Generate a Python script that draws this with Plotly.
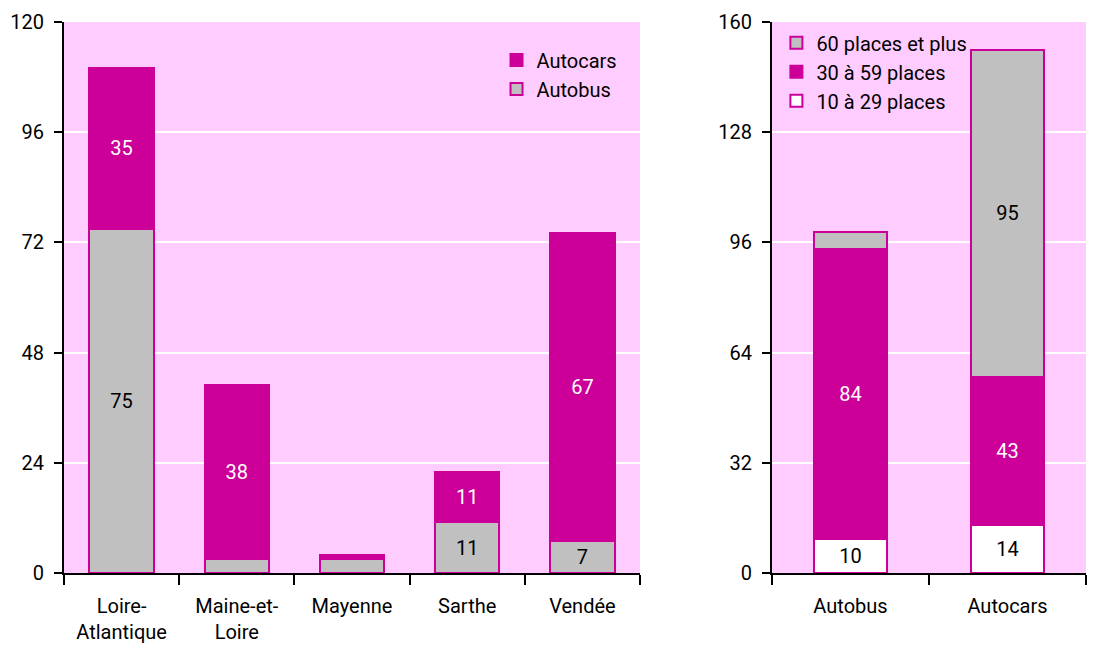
import plotly.graph_objects as go

# left chart: vehicles by department
departements = ["Loire-<br>Atlantique", "Maine-et-<br>Loire", "Mayenne", "Sarthe", "Vendée"]
autobus = [75, 3, 3, 11, 7]
autocars = [35, 38, 1, 11, 67]
autobus_labels = ["75", "", "", "11", "7"]
autocars_labels = ["35", "38", "", "11", "67"]

# right chart: vehicles by capacity
types = ["Autobus", "Autocars"]
places_10_29 = [10, 14]
places_30_59 = [84, 43]
places_60_plus = [5, 95]
labels_60_plus = ["", "95"]

left_ticks = [0, 24, 48, 72, 96, 120]
right_ticks = [0, 32, 64, 96, 128, 160]

MAGENTA = "#CC0099"
GRAY = "#C0C0C0"
BG = "#FFCCFF"
FONT = "Roboto, Liberation Sans, sans-serif"

W, H = 1104, 648
OFF = 8  # page body margin

fig = go.Figure()

edge = dict(color=MAGENTA, width=2)

fig.add_trace(go.Bar(
    x=departements, y=autobus, name="Autobus",
    marker=dict(color=GRAY, line=edge),
    text=autobus_labels, textposition="inside", insidetextanchor="middle",
    textfont=dict(color="black"), textangle=0,
    xaxis="x", yaxis="y", legend="legend", width=0.56,
))
fig.add_trace(go.Bar(
    x=departements, y=autocars, name="Autocars",
    marker=dict(color=MAGENTA, line=edge),
    text=autocars_labels, textposition="inside", insidetextanchor="middle",
    textfont=dict(color="white"), textangle=0,
    xaxis="x", yaxis="y", legend="legend", width=0.56,
))

fig.add_trace(go.Bar(
    x=types, y=places_10_29, name="10 à 29 places",
    marker=dict(color="white", line=edge),
    text=[str(v) for v in places_10_29], textposition="inside", insidetextanchor="middle",
    textfont=dict(color="black"), textangle=0,
    xaxis="x2", yaxis="y2", legend="legend2", width=0.46,
))
fig.add_trace(go.Bar(
    x=types, y=places_30_59, name="30 à 59 places",
    marker=dict(color=MAGENTA, line=edge),
    text=[str(v) for v in places_30_59], textposition="inside", insidetextanchor="middle",
    textfont=dict(color="white"), textangle=0,
    xaxis="x2", yaxis="y2", legend="legend2", width=0.46,
))
fig.add_trace(go.Bar(
    x=types, y=places_60_plus, name="60 places et plus",
    marker=dict(color=GRAY, line=edge),
    text=labels_60_plus, textposition="inside", insidetextanchor="middle",
    textfont=dict(color="black"), textangle=0,
    xaxis="x2", yaxis="y2", legend="legend2", width=0.46,
))

ydom = [1 - (573 - OFF) / H, 1 - (22 - OFF) / H]
xaxis_common = dict(
    showline=True, linecolor="black", linewidth=2,
    ticks="outside", tickson="boundaries", ticklen=10, tickwidth=2, tickcolor="black",
    showgrid=False, fixedrange=True, automargin=False, tickangle=0,
    ticklabelstandoff=14,
)
yaxis_common = dict(
    showline=True, linecolor="black", linewidth=2,
    ticks="outside", ticklen=8, tickwidth=2, tickcolor="black",
    showgrid=True, gridcolor="white", gridwidth=2, zeroline=False, automargin=False,
    ticklabelstandoff=6,
)

fig.update_layout(
    width=W, height=H,
    margin=dict(l=0, r=0, t=0, b=0),
    paper_bgcolor="white",
    plot_bgcolor=BG,
    barmode="stack",
    font=dict(family=FONT, size=20, color="black"),
    xaxis=dict(domain=[(64 - OFF) / W, (640 - OFF) / W], anchor="y", **xaxis_common),
    yaxis=dict(domain=ydom, anchor="x", range=[0, 120], tickvals=left_ticks, **yaxis_common),
    xaxis2=dict(domain=[(772 - OFF) / W, (1086 - OFF) / W], anchor="y2", **xaxis_common),
    yaxis2=dict(domain=ydom, anchor="x2", range=[0, 160], tickvals=right_ticks, **yaxis_common),
    legend=dict(
        x=0.4425, y=0.950, xanchor="left", yanchor="top",
        traceorder="reversed", bgcolor="rgba(0,0,0,0)",
    ),
    legend2=dict(
        x=0.696, y=0.9765, xanchor="left", yanchor="top",
        traceorder="reversed", bgcolor="rgba(0,0,0,0)",
    ),
)

fig.write_html("out.html")
